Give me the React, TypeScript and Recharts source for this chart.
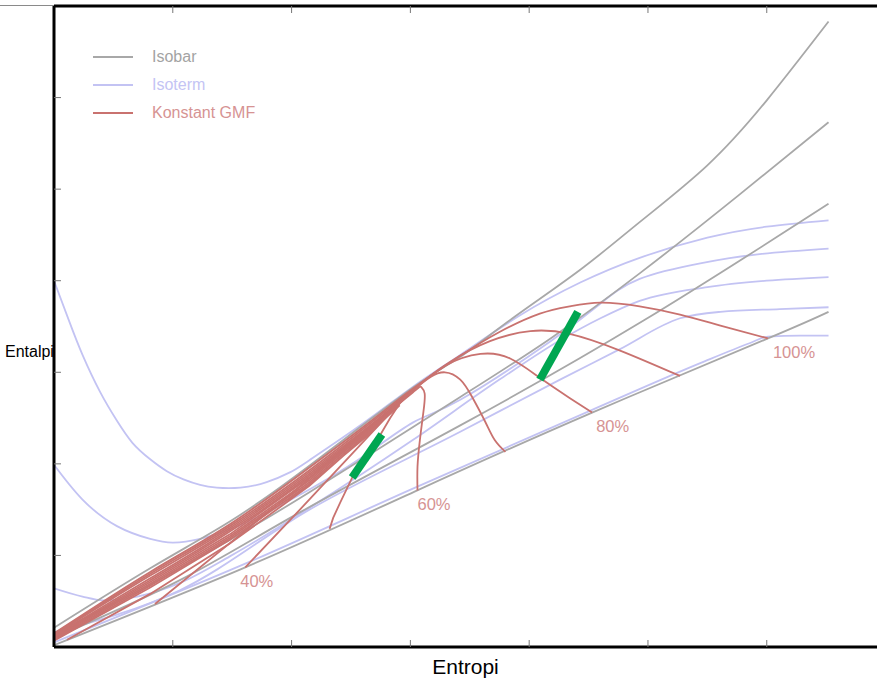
import { LineChart, Line, XAxis, YAxis, Legend, ReferenceDot } from "recharts";

type Pt = [number, number];

// entropy (x) / enthalpy (y), axis units
const isobarA: Pt[] = [[0, 0.21], [0.81, 0.86], [1.48, 1.37], [2.15, 1.98], [3.02, 2.83], [3.42, 3.17], [3.86, 3.59], [4.43, 4.12], [4.93, 4.64], [5.5, 5.26], [6.0, 5.97], [6.52, 6.83]];
const isobarB: Pt[] = [[0, 0.15], [0.81, 0.68], [1.48, 1.17], [2.15, 1.69], [3.42, 2.73], [4.18, 3.37], [4.93, 4.08], [5.77, 4.94], [6.52, 5.73]];
const isobarC: Pt[] = [[0, 0.1], [1.06, 0.73], [2.07, 1.47], [3.42, 2.42], [4.97, 3.57], [6.52, 4.84]];
const isobarD: Pt[] = [[0, 0.02], [1.61, 0.87], [3.04, 1.7], [4.53, 2.56], [6.01, 3.37], [6.52, 3.66]];

const isotherm1: Pt[] = [[0, 4.0], [0.13, 3.55], [0.24, 3.19], [0.39, 2.78], [0.53, 2.47], [0.66, 2.23], [0.81, 2.05], [0.95, 1.92], [1.09, 1.83], [1.23, 1.77], [1.37, 1.74], [1.57, 1.74], [1.79, 1.8], [1.99, 1.91], [2.15, 2.04], [2.6, 2.44], [3.02, 2.84], [3.42, 3.19], [3.92, 3.62], [4.43, 3.98], [4.93, 4.25], [5.5, 4.47], [6.0, 4.59], [6.52, 4.66]];
const isotherm2: Pt[] = [[0, 1.99], [0.24, 1.61], [0.53, 1.32], [0.81, 1.18], [1.0, 1.14], [1.23, 1.18], [1.51, 1.3], [1.79, 1.47], [2.15, 1.72], [2.58, 2.06], [3.02, 2.45], [3.42, 2.7], [4.18, 3.34], [4.6, 3.75], [4.93, 4.02], [5.44, 4.19], [5.94, 4.29], [6.52, 4.35]];
const isotherm3: Pt[] = [[0, 0.64], [0.24, 0.55], [0.41, 0.51], [0.7, 0.55], [1.06, 0.7], [1.48, 0.99], [2.15, 1.52], [3.02, 2.26], [3.75, 2.92], [4.26, 3.35], [4.6, 3.59], [4.93, 3.78], [5.5, 3.93], [6.0, 4.0], [6.52, 4.04]];
const isotherm4: Pt[] = [[0, 0.16], [1.06, 0.62], [2.15, 1.5], [3.42, 2.35], [4.26, 2.92], [4.76, 3.25], [5.27, 3.59], [5.61, 3.66], [6.11, 3.69], [6.52, 3.71]];
const isotherm5: Pt[] = [[0, 0.05], [1.61, 0.91], [3.04, 1.74], [4.53, 2.59], [5.44, 3.1], [5.86, 3.32], [6.01, 3.39], [6.28, 3.4], [6.52, 3.4]];

const gmf100: Pt[] = [[0, 0.15], [0.81, 0.82], [1.48, 1.34], [2.15, 1.96], [2.66, 2.46], [3.02, 2.82], [3.42, 3.18], [3.75, 3.44], [4.09, 3.64], [4.34, 3.72], [4.6, 3.76], [4.93, 3.72], [5.27, 3.63], [5.61, 3.51], [6.01, 3.37]];
const gmf90: Pt[] = [[0, 0.14], [0.81, 0.8], [1.48, 1.32], [2.15, 1.93], [2.66, 2.44], [3.02, 2.81], [3.33, 3.11], [3.67, 3.34], [4.01, 3.45], [4.34, 3.42], [4.76, 3.24], [5.27, 2.96]];
const gmf80: Pt[] = [[0, 0.13], [0.81, 0.78], [1.48, 1.3], [2.15, 1.91], [2.66, 2.42], [3.02, 2.8], [3.29, 3.07], [3.59, 3.2], [3.84, 3.15], [4.09, 2.94], [4.34, 2.72], [4.53, 2.56]];
const gmf70: Pt[] = [[0, 0.12], [0.81, 0.75], [1.48, 1.28], [2.15, 1.89], [2.66, 2.41], [3.02, 2.8], [3.17, 2.95], [3.29, 3.0], [3.42, 2.92], [3.52, 2.73], [3.63, 2.46], [3.71, 2.26], [3.8, 2.13]];
const gmf60: Pt[] = [[0, 0.11], [0.81, 0.73], [1.48, 1.26], [2.15, 1.87], [2.66, 2.4], [3.02, 2.78], [3.09, 2.84], [3.12, 2.77], [3.11, 2.57], [3.08, 2.26], [3.06, 1.97], [3.06, 1.71]];
const gmf50: Pt[] = [[0, 0.1], [0.81, 0.71], [1.48, 1.23], [2.15, 1.85], [2.66, 2.39], [3.0, 2.78], [2.91, 2.66], [2.83, 2.5], [2.73, 2.28], [2.62, 2.06], [2.51, 1.85], [2.41, 1.58], [2.35, 1.41], [2.32, 1.29]];
const gmf40: Pt[] = [[0, 0.09], [0.81, 0.69], [1.48, 1.21], [2.15, 1.82], [2.66, 2.37], [2.97, 2.75], [2.07, 1.5], [1.61, 0.87]];
const gmf30: Pt[] = [[0, 0.08], [0.81, 0.67], [1.48, 1.19], [2.15, 1.8], [2.66, 2.35], [2.91, 2.64], [0.85, 0.47]];
const gmf20: Pt[] = [[0, 0.07], [0.81, 0.65], [1.48, 1.17], [2.15, 1.78], [2.66, 2.33], [2.87, 2.61], [2.49, 2.15], [2.15, 1.76], [1.48, 1.13], [0.81, 0.58], [0.11, 0.08]];

const highlightLow: Pt[] = [[2.51, 1.85], [2.76, 2.32]];
const highlightHigh: Pt[] = [[4.09, 2.92], [4.41, 3.66]];

const pctLabels: { text: string; at: Pt; dx: number }[] = [
  { text: "40%", at: gmf40[gmf40.length - 1], dx: -5 },
  { text: "60%", at: gmf60[gmf60.length - 1], dx: 0 },
  { text: "80%", at: gmf80[gmf80.length - 1], dx: 4 },
  { text: "100%", at: gmf100[gmf100.length - 1], dx: 5 },
];

const xTicks = [1, 2, 3, 4, 5, 6];
const yTicks = [1, 2, 3, 4, 5, 6];

const ISOBAR = "#a8a8a8";
const ISOTERM = "#c3c3f3";
const GMF = "#c9726f";
const GMF_TEXT = "#d69393";
const GREEN = "#00a651";
const FONT = "'Liberation Sans', Arial, sans-serif";

const legendItems = [
  { label: "Isobar", line: ISOBAR, text: "#a3a3a3" },
  { label: "Isoterm", line: ISOTERM, text: "#c4c4f4" },
  { label: "Konstant GMF", line: GMF, text: GMF_TEXT },
];

const rows = (pts: Pt[]) => pts.map(([x, y]) => ({ x, y }));
const blank = () => "";

function LegendBox() {
  return (
    <div style={{ fontFamily: FONT, fontSize: 16 }}>
      {legendItems.map((it) => (
        <div key={it.label} style={{ display: "flex", alignItems: "center", height: 28 }}>
          <span style={{ width: 40, height: 2, background: it.line, marginRight: 19 }} />
          <span style={{ color: it.text }}>{it.label}</span>
        </div>
      ))}
    </div>
  );
}

function PctLabel(props: any) {
  const { cx, cy, text, dx } = props;
  return (
    <text x={cx + dx} y={cy + 19.5} fill={GMF_TEXT} fontSize={16.5} fontFamily={FONT}>
      {text}
    </text>
  );
}

export default function App() {
  const series = (pts: Pt[], color: string, type: any, key: string, width = 1.8) => (
    <Line
      key={key}
      data={rows(pts)}
      dataKey="y"
      type={type}
      stroke={color}
      strokeWidth={width}
      dot={false}
      activeDot={false}
      isAnimationActive={false}
      legendType="none"
    />
  );

  const axisStyle = {
    allowDataOverflow: true,
    mirror: true,
    tickSize: 7,
    tickFormatter: blank,
    tickLine: { stroke: "#777" },
    axisLine: { stroke: "#000", strokeWidth: 3 },
  };

  return (
    <div style={{ position: "absolute", left: 0, top: 0, width: 877, height: 695, background: "#fff", fontFamily: FONT }}>
      <div style={{ position: "absolute", left: 0, top: 5, width: 54, height: 1, background: "#8a8a8a" }} />
      <LineChart width={877} height={695} margin={{ top: 6, right: 0, bottom: 48, left: 54 }}>
        <XAxis dataKey="x" type="number" domain={[0, 6.928]} ticks={xTicks} {...axisStyle} />
        <XAxis xAxisId="top" orientation="top" dataKey="x" type="number" domain={[0, 6.928]} ticks={xTicks} {...axisStyle} />
        <YAxis type="number" domain={[0, 7]} ticks={yTicks} {...axisStyle} />
        <Legend
          layout="vertical"
          align="center"
          verticalAlign="middle"
          content={() => <LegendBox />}
          wrapperStyle={{ left: 93, top: 43, width: 200 }}
        />
        {[isotherm1, isotherm2].map((p, i) => series(p, ISOTERM, "natural", `t${i}`))}
        {[isotherm3, isotherm4, isotherm5].map((p, i) => series(p, ISOTERM, "monotone", `u${i}`))}
        {[isobarA, isobarB, isobarC, isobarD].map((p, i) => series(p, ISOBAR, "natural", `p${i}`))}
        {[gmf100, gmf90, gmf80, gmf70, gmf60].map((p, i) => series(p, GMF, "natural", `g${i}`))}
        {[gmf50, gmf40, gmf30, gmf20].map((p, i) => series(p, GMF, "linear", `h${i}`))}
        {series(highlightLow, GREEN, "linear", "gl", 8)}
        {series(highlightHigh, GREEN, "linear", "gh", 8)}
        {pctLabels.map((l) => (
          <ReferenceDot
            key={l.text}
            x={l.at[0]}
            y={l.at[1]}
            r={0}
            shape={(p: any) => <PctLabel {...p} text={l.text} dx={l.dx} />}
          />
        ))}
      </LineChart>
      <div style={{ position: "absolute", left: 5, top: 343, fontSize: 16, color: "#000" }}>Entalpi</div>
      <div style={{ position: "absolute", left: 0, width: 931, top: 655, fontSize: 21, color: "#000", textAlign: "center" }}>Entropi</div>
    </div>
  );
}
